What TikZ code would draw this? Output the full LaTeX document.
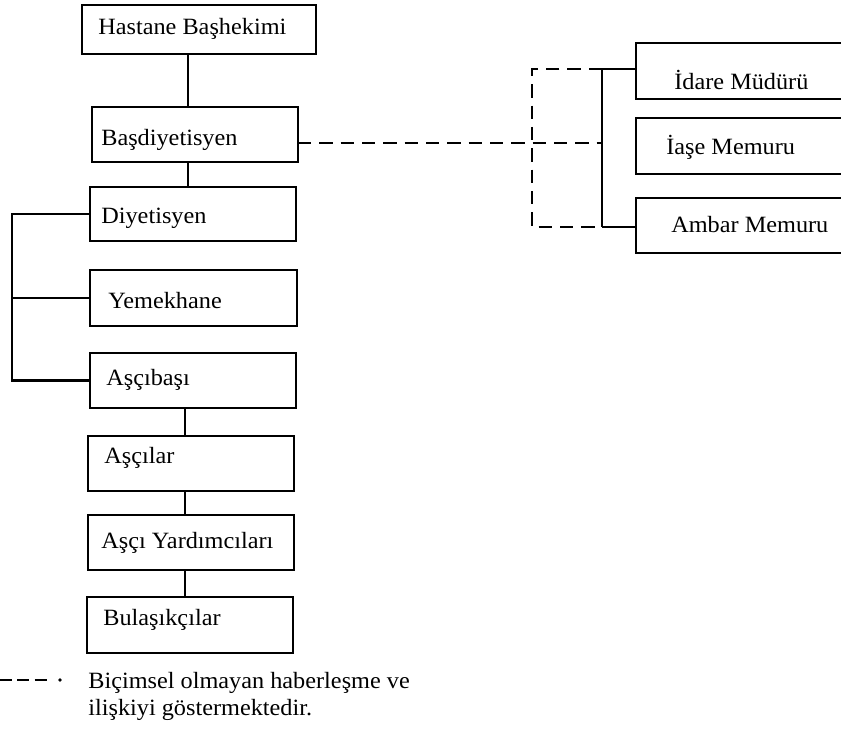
\documentclass[tikz,border=0pt]{standalone}
\usepackage{fontspec}
\setmainfont{Liberation Serif}[FakeStretch=1.04]
\usetikzlibrary{calc}
\begin{document}
\begin{tikzpicture}[x=0.75pt,y=-0.75pt,
  line width=2pt,
  box/.style 2 args={draw, rectangle, inner sep=0pt, outer sep=0pt,
    minimum width=#1*0.75pt, minimum height=#2*0.75pt},
  lbl/.style={anchor=base west, inner sep=0pt, font=\fontsize{17.5}{20}\selectfont},
  informal/.style={dash pattern=on 10pt off 6pt},
]
\clip (0,0) rectangle (841,738);

% main chain of the kitchen organisation
\node[box={234}{49}] (hb) at (199,29.5) {};
\node[lbl] (hbt) at (97,35) {Hastane Başhekimi};
\node[box={206}{55}] (bd) at (195,134.5) {};
\node[lbl] (bdt) at (100,146) {Başdiyetisyen};
\node[box={206}{54}] (dy) at (193,214) {};
\node[lbl] (dyt) at (100,223) {Diyetisyen};
\node[box={207}{56}] (ym) at (193.5,298) {};
\node[lbl] (ymt) at (107,308) {Yemekhane};
\node[box={206}{55}] (ab) at (193,380.5) {};
\node[lbl] (abt) at (105,385) {Aşçıbaşı};
\node[box={206}{55}] (ac) at (191,463.5) {};
\node[lbl] (act) at (103,463) {Aşçılar};
\node[box={206}{55}] (ay) at (191,542.5) {};
\node[lbl] (ayt) at (100,548) {Aşçı Yardımcıları};
\node[box={206}{56}] (bl) at (190,625) {};
\node[lbl] (blt) at (102,625) {Bulaşıkçılar};

% administrative side
\node[box={244}{56}] (id) at (758,71) {};
\node[lbl] (idt) at (673,90) {İdare Müdürü};
\node[box={244}{56}] (ia) at (758,146) {};
\node[lbl] (iat) at (665,155) {İaşe Memuru};
\node[box={244}{55}] (am) at (758,225.5) {};
\node[lbl] (amt) at (670,232) {Ambar Memuru};

% helper coordinates for the connector runs
\coordinate (sp) at (188,0);
\coordinate (sq) at (185,0);
\coordinate (lb) at (12,0);
\coordinate (rt) at (602,69);
\coordinate (rb) at (602,227);
\coordinate (dl) at (602,143);
\coordinate (ql) at (532,0);

% solid reporting lines
\draw (hb.south -| sp) -- (bd.north -| sp);
\draw (bd.south -| sp) -- (dy.north -| sp);
\draw (ab.south -| sq) -- (ac.north -| sq);
\draw (ac.south -| sq) -- (ay.north -| sq);
\draw (ay.south -| sq) -- (bl.north -| sq);
\draw (dy.west) -- (dy.west -| lb) -- (ab.west -| lb) -- (ab.west);
\draw (ym.west) -- (ym.west -| lb);
\draw (rt) -- (rb);
\draw (rt) -- (rt -| id.west);
\draw (rb) -- (rb -| am.west);

% informal links
\draw[informal] (bd.east |- dl) -- (dl);
\draw[informal] (rt) -- (rt -| ql) -- (rb -| ql) -- (rb);

% legend
\coordinate (k0) at (0,680);
\coordinate (k1) at (48,680);
\draw[dash pattern=on 9pt off 4pt] (k0) -- (k1);
\node[circle, fill, inner sep=0pt, minimum size=2.8pt] (kd) at (60,680) {};
\node[lbl] (lg1) at (87,688) {Biçimsel olmayan haberleşme ve};
\node[lbl] (lg2) at (87,715) {ilişkiyi göstermektedir.};
\end{tikzpicture}
\end{document}
